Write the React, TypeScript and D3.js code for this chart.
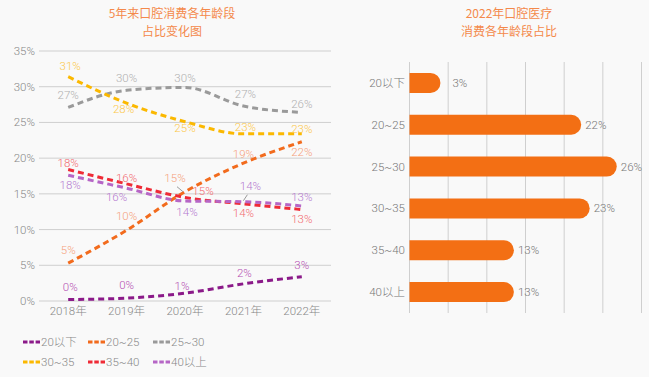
import React from 'react';
import * as d3 from 'd3';

const years = ['2018年', '2019年', '2020年', '2021年', '2022年'];
const seriesNames = ['20以下', '20~25', '25~30', '30~35', '35~40', '40以上'];
const s20 = [0.2, 0.4, 1.1, 2.4, 3.4];
const s2025 = [5.3, 9.9, 15.3, 19.3, 22.3];
const s2530 = [27.1, 29.5, 29.9, 27.3, 26.4];
const s3035 = [31.4, 27.7, 25.1, 23.4, 23.4];
const s3540 = [18.4, 16.4, 14.5, 13.6, 12.8];
const s40 = [17.6, 15.8, 14.0, 13.9, 13.3];
const yTicks = [0, 5, 10, 15, 20, 25, 30, 35];

const barCats = ['20以下', '20~25', '25~30', '30~35', '35~40', '40以上'];
const barValues = [4.0, 22.2, 26.8, 23.3, 13.5, 13.5];
const barLabels = ['3%', '22%', '26%', '23%', '13%', '13%'];
const barTicks = [0, 5, 10, 15, 20, 25, 30];

const allSeries = [s20, s2025, s2530, s3035, s3540, s40];
const lineColors = ['#8b1a89', '#f26b1d', '#9a9a9a', '#fbb800', '#ef2b36', '#b666c6'];
const labelColors = ['#b54fb3', '#f5a27c', '#b0b0b0', '#fcc84a', '#f26a70', '#b57ad0'];
// label offsets [dx, dy, leader]
const labelOffsets: [number, number, number][][] = [
  [[2, -13, 0], [0, -13, 0], [-3, -7, 0], [1, -11, 0], [0, -12, 0]],
  [[0, -13, 0], [0, -14, 0], [-10, -14, 1], [0, -9, 0], [0, 10, 0]],
  [[0, -12, 0], [0, -12, 0], [0, -9, 0], [2, -12, 0], [0, -8, 0]],
  [[2, -11, 0], [-3, 6, 0], [0, 6, 0], [2, -7, 0], [0, -5, 0]],
  [[0, -7, 0], [0, -6, 0], [18, -6, 0], [0, 9, 0], [0, 9, 0]],
  [[2, 10, 0], [-10, 9, 0], [2, 11, 0], [7, -16, 2], [0, -9, 0]],
];

const FONT = "Roboto, 'Noto Sans CJK SC', sans-serif";
const CJK = "'Noto Sans CJK SC', sans-serif";
const FS = 11.5;
const FW = 300;

export default function App() {
  const x = d3.scaleBand<string>().domain(years).range([39, 331]);
  const y = d3.scaleLinear().domain([0, 35]).range([301, 51]);
  const cx = (i: number) => (x(years[i]) as number) + x.bandwidth() / 2;
  const line = d3
    .line<number>()
    .x((_, i) => cx(i))
    .y((d) => y(d))
    .curve(d3.curveMonotoneX);

  const bx = d3.scaleLinear().domain([0, 30]).range([409.5, 641.5]);
  const by = d3.scaleBand<string>().domain(barCats).range([62, 313]);
  const bh = 20;

  return (
    <svg
      width={649}
      height={377}
      style={{ position: 'absolute', left: 0, top: 0, background: '#f9f9f9' }}
    >
      <rect x={0} y={0} width={649} height={377} fill="#f9f9f9" />
      {/* Left title */}
      <text x={172} y={18} textAnchor="middle" fontFamily={CJK} fontSize={12} fill="#f4894b">
        5年来口腔消费各年龄段
      </text>
      <text x={172} y={36} textAnchor="middle" fontFamily={CJK} fontSize={12} fill="#f4894b">
        占比变化图
      </text>
      {/* Y grid */}
      {yTicks.map((t) => (
        <g key={t}>
          <line x1={39} x2={331} y1={y(t)} y2={y(t)} stroke="#cfcfcf" strokeWidth={1} />
          <text x={35} y={y(t) + 4} textAnchor="end" fontFamily={FONT} fontWeight={FW} fontSize={FS} fill="#888">
            {t}%
          </text>
        </g>
      ))}
      {years.map((yr, i) => (
        <text key={yr} x={cx(i)} y={315} textAnchor="middle" fontFamily={FONT} fontWeight={FW} fontSize={FS} fill="#888">
          {yr}
        </text>
      ))}
      {/* lines */}
      {allSeries.map((s, si) => (
        <path
          key={si}
          d={line(s) as string}
          fill="none"
          stroke={lineColors[si]}
          strokeWidth={3}
          strokeDasharray="6,4"
        />
      ))}
      {/* labels */}
      {allSeries.map((s, si) =>
        s.map((v, i) => {
          const [dx, dy, leader] = labelOffsets[si][i];
          const px = cx(i);
          const py = y(v);
          const lx = px + dx;
          const ly = py + dy;
          return (
            <g key={`${si}-${i}`}>
              {leader === 1 && (
                <line x1={lx + 2} y1={ly + 9} x2={px - 2} y2={py} stroke="#999" strokeWidth={1} />
              )}
              {leader === 2 && (
                <line x1={lx - 3} y1={ly + 9} x2={px} y2={py - 1} stroke="#999" strokeWidth={1} />
              )}
              <text x={lx} y={ly + 4} textAnchor="middle" fontFamily={FONT} fontWeight={FW} fontSize={FS} fill={labelColors[si]}>
                {Math.round(v)}%
              </text>
            </g>
          );
        })
      )}
      {/* legend */}
      {seriesNames.map((n, i) => {
        const lx = 23 + (i % 3) * 65;
        const ly = i < 3 ? 342 : 362;
        return (
          <g key={n}>
            <line x1={lx} x2={lx + 17} y1={ly} y2={ly} stroke={lineColors[i]} strokeWidth={3} strokeDasharray="4.5,1.8" />
            <text x={lx + 18} y={ly + 4} fontFamily={FONT} fontWeight={FW} fontSize={FS} fill="#888">
              {n}
            </text>
          </g>
        );
      })}

      {/* Right title */}
      <text x={509} y={18} textAnchor="middle" fontFamily={CJK} fontSize={12} fill="#f4894b">
        2022年口腔医疗
      </text>
      <text x={509} y={36} textAnchor="middle" fontFamily={CJK} fontSize={12} fill="#f4894b">
        消费各年龄段占比
      </text>
      {barTicks.map((t) => (
        <line key={t} x1={bx(t)} x2={bx(t)} y1={62} y2={313} stroke="#cfcfcf" strokeWidth={1} />
      ))}
      {barCats.map((c, i) => {
        const yc = (by(c) as number) + by.bandwidth() / 2;
        const x0 = bx(0);
        const x1 = bx(barValues[i]);
        const r = bh / 2;
        const d = `M${x0},${yc - r} H${x1 - r} A${r},${r} 0 0 1 ${x1 - r},${yc + r} H${x0} Z`;
        return (
          <g key={c}>
            <path d={d} fill="#f36f14" />
            <text x={405} y={yc + 4} textAnchor="end" fontFamily={FONT} fontWeight={FW} fontSize={FS} fill="#777">
              {c}
            </text>
            <text x={x1 + (i === 0 ? 12 : 4)} y={yc + 4} fontFamily={FONT} fontWeight={FW} fontSize={FS} fill="#777">
              {barLabels[i]}
            </text>
          </g>
        );
      })}
    </svg>
  );
}
